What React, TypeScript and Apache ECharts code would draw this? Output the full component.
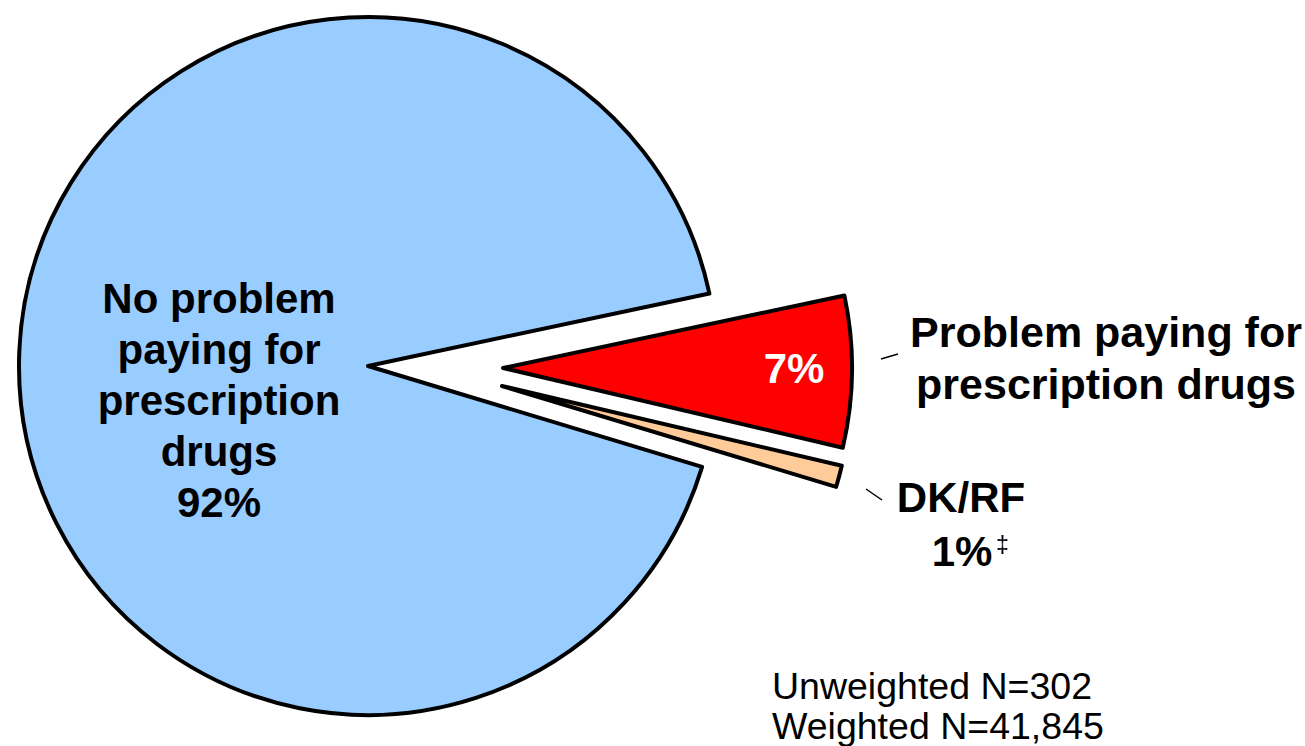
import React, { useEffect, useRef } from "react";
import * as echarts from "echarts";

// Slices in clockwise order starting at the upper edge of the red wedge
const categories = [
  "Problem paying for prescription drugs",
  "DK/RF",
  "No problem paying for prescription drugs",
];
const values = [7, 1, 92];
const colors = ["#FF0000", "#FFCC99", "#99CCFF"];
const labelLines = [
  ["Problem paying for", "prescription drugs"],
  ["DK/RF"],
  ["No problem", "paying for", "prescription", "drugs"],
];
const footnoteMark = "‡";
const sampleNotes = ["Unweighted N=302", "Weighted N=41,845"];

// exploded-slice centres (pixel), one per slice
const sliceCenters: [number, number][] = [
  [503, 368],
  [502, 386],
  [368, 366],
];

const FONT = '"Liberation Sans", Arial, Helvetica, sans-serif';

export default function App() {
  const ref = useRef<HTMLDivElement>(null);
  useEffect(() => {
    if (!ref.current) return;
    const chart = echarts.init(ref.current, undefined, { renderer: "svg" });

    const drawOrder = [2, 0, 1];
    const series = drawOrder.map((visibleIdx) => ({
      type: "pie",
      name: categories[visibleIdx],
      center: sliceCenters[visibleIdx],
      radius: 349,
      startAngle: 12,
      clockwise: true,
      silent: true,
      label: { show: false },
      labelLine: { show: false },
      emphasis: { disabled: true },
      z: visibleIdx === 2 ? 1 : 2,
      data: categories.map((name, i) => ({
        name,
        value: values[i],
        itemStyle:
          i === visibleIdx
            ? { color: colors[i], borderColor: "#000", borderWidth: 4 }
            : { color: "rgba(0,0,0,0)", borderWidth: 0 },
      })),
    }));

    const boldText = (
      text: string,
      x: number,
      y: number,
      lineHeight: number,
      fill = "#000",
      size = 42
    ) => ({
      type: "text",
      x,
      y,
      z: 10,
      silent: true,
      style: {
        text,
        fill,
        fontSize: size,
        fontWeight: "bold",
        fontFamily: FONT,
        align: "center",
        textAlign: "center",
        verticalAlign: "middle",
        textVerticalAlign: "middle",
        lineHeight,
      },
    });

    const plainText = (text: string, x: number, y: number, size: number) => ({
      type: "text",
      x,
      y,
      z: 10,
      silent: true,
      style: {
        text,
        fill: "#000",
        fontSize: size,
        fontFamily: FONT,
        align: "left",
        textAlign: "left",
        verticalAlign: "middle",
        textVerticalAlign: "middle",
      },
    });

    const graphic = [
      boldText([...labelLines[2], values[2] + "%"].join("\n"), 219, 400, 51),
      boldText(values[0] + "%", 794, 368, 51, "#FFFFFF"),
      boldText(labelLines[0].join("\n"), 1106, 358, 52, "#000", 43),
      boldText(labelLines[1][0], 961, 497, 52),
      boldText(values[1] + "%", 962, 551, 52),
      plainText(footnoteMark, 996, 545, 23),
      {
        type: "line",
        z: 10,
        silent: true,
        shape: { x1: 881, y1: 359, x2: 898, y2: 354 },
        style: { stroke: "#000", lineWidth: 1.5 },
      },
      {
        type: "line",
        z: 10,
        silent: true,
        shape: { x1: 866, y1: 489, x2: 882, y2: 500 },
        style: { stroke: "#000", lineWidth: 1.5 },
      },
      plainText(sampleNotes[0], 772, 686, 37.5),
      plainText(sampleNotes[1], 772, 726, 37.5),
    ];

    chart.setOption({
      animation: false,
      backgroundColor: "#FFFFFF",
      series,
      graphic,
    });
    return () => chart.dispose();
  }, []);

  return (
    <div
      ref={ref}
      style={{ position: "absolute", left: 0, top: 0, width: 1305, height: 746 }}
    />
  );
}
